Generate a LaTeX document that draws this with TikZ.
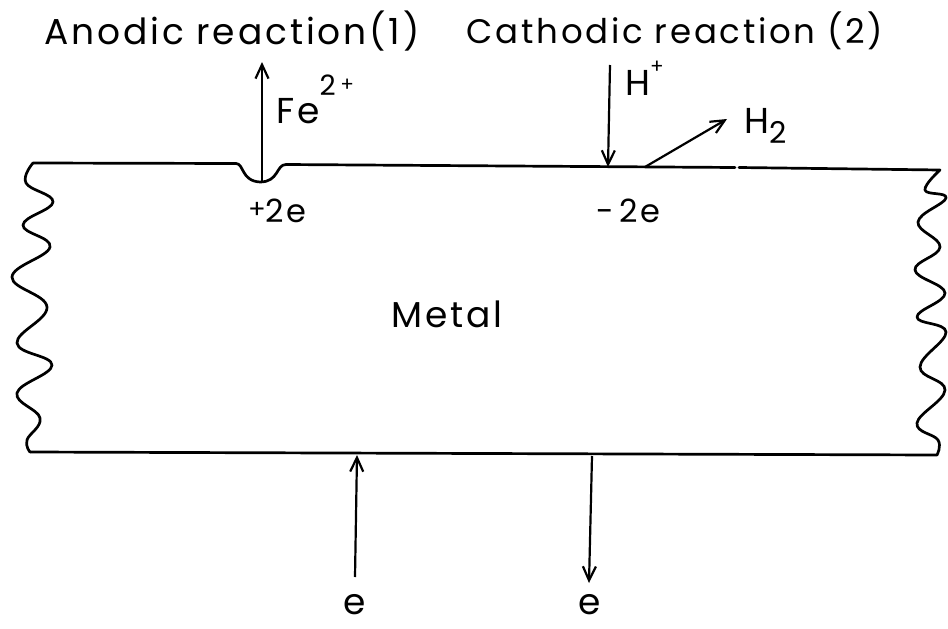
\documentclass[tikz,border=0pt]{standalone}
\usepackage{fontspec}
\setmainfont{Poppins}
\newfontfamily\trackfont[LetterSpace=8]{Poppins}
\usetikzlibrary{arrows.meta}
\tikzset{
  outline/.style={line width=2.7pt, line join=round, line cap=round},
  arr/.style={line width=2.2pt, -{Straight Barb[length=14pt,width=13pt,line width=2.2pt]}},
  lab/.style={inner sep=0pt, font=\fontsize{36}{40}\selectfont\trackfont},
  smalllab/.style={inner sep=0pt, font=\fontsize{32}{36}\selectfont\trackfont}
}
\begin{document}
\begin{tikzpicture}[x=1pt,y=-1pt]
\useasboundingbox (0,0) rectangle (948,629);
% metal body
\draw[outline] plot[smooth,tension=0.7] coordinates {(30,452) (27,440) (40,418) (17,393) (52,365) (17,343) (47,307) (12,277) (50,247) (23,225) (53,202) (26,183) (33,163)}
  -- (236,163.5) .. controls (244,163.5) and (241,181) .. (260,182)
  .. controls (279,182) and (276,164.5) .. (286,164.5) -- (735,167.5);
\draw[outline] (739,167.5) -- plot[smooth,tension=0.7] coordinates {(940,170) (925,190) (946,198) (918,222) (940,247) (915,270) (945,293) (917,317) (946,332) (920,367) (945,390) (917,423) (938,440) (937,455)}
  -- (30,452);
% coordinates for arrows
\coordinate (feB) at (262,181);
\coordinate (feT) at (262,62);
\coordinate (hT) at (610,65);
\coordinate (hB) at (608,167);
\coordinate (h2B) at (645,167);
\coordinate (h2T) at (727,119);
\coordinate (e1B) at (355,577);
\coordinate (e1T) at (357,455);
\coordinate (e2T) at (592,456);
\coordinate (e2B) at (589,583);
\draw[arr] (feB) -- (feT);
\draw[arr] (hT) -- (hB);
\draw[arr] (h2B) -- (h2T);
\draw[arr] (e1B) -- (e1T);
\draw[arr] (e2T) -- (e2B);
% labels
\node[lab] (anodic) at (232,31) {Anodic reaction(1)};
\node[lab, font=\fontsize{34}{38}\selectfont\trackfont] (cathodic) at (675,31) {Cathodic reaction (2)};
\node[lab, anchor=base west] (fe) at (276,123) {Fe\raisebox{28pt}{\fontsize{28}{30}\selectfont 2\,\raisebox{4pt}{\fontsize{20}{22}\selectfont +}}};
\node[lab, anchor=base west] (hplus) at (625,95) {H\raisebox{22pt}{\fontsize{20}{22}\selectfont +}};
\node[lab, anchor=base west] (htwo) at (744,133) {H\raisebox{-10pt}{\fontsize{30}{32}\selectfont 2}};
\node[smalllab, anchor=base west] (plus2e) at (248,222) {{\fontsize{26}{28}\selectfont\raisebox{4pt}{+}}2e};
\node[smalllab, anchor=base west] (minus2e) at (596,222) {-\,2e};
\node[lab] (metal) at (447,314) {Metal};
\node[lab, anchor=base] (ea) at (355,614) {e};
\node[lab, anchor=base] (eb) at (590,614) {e};
\end{tikzpicture}
\end{document}
